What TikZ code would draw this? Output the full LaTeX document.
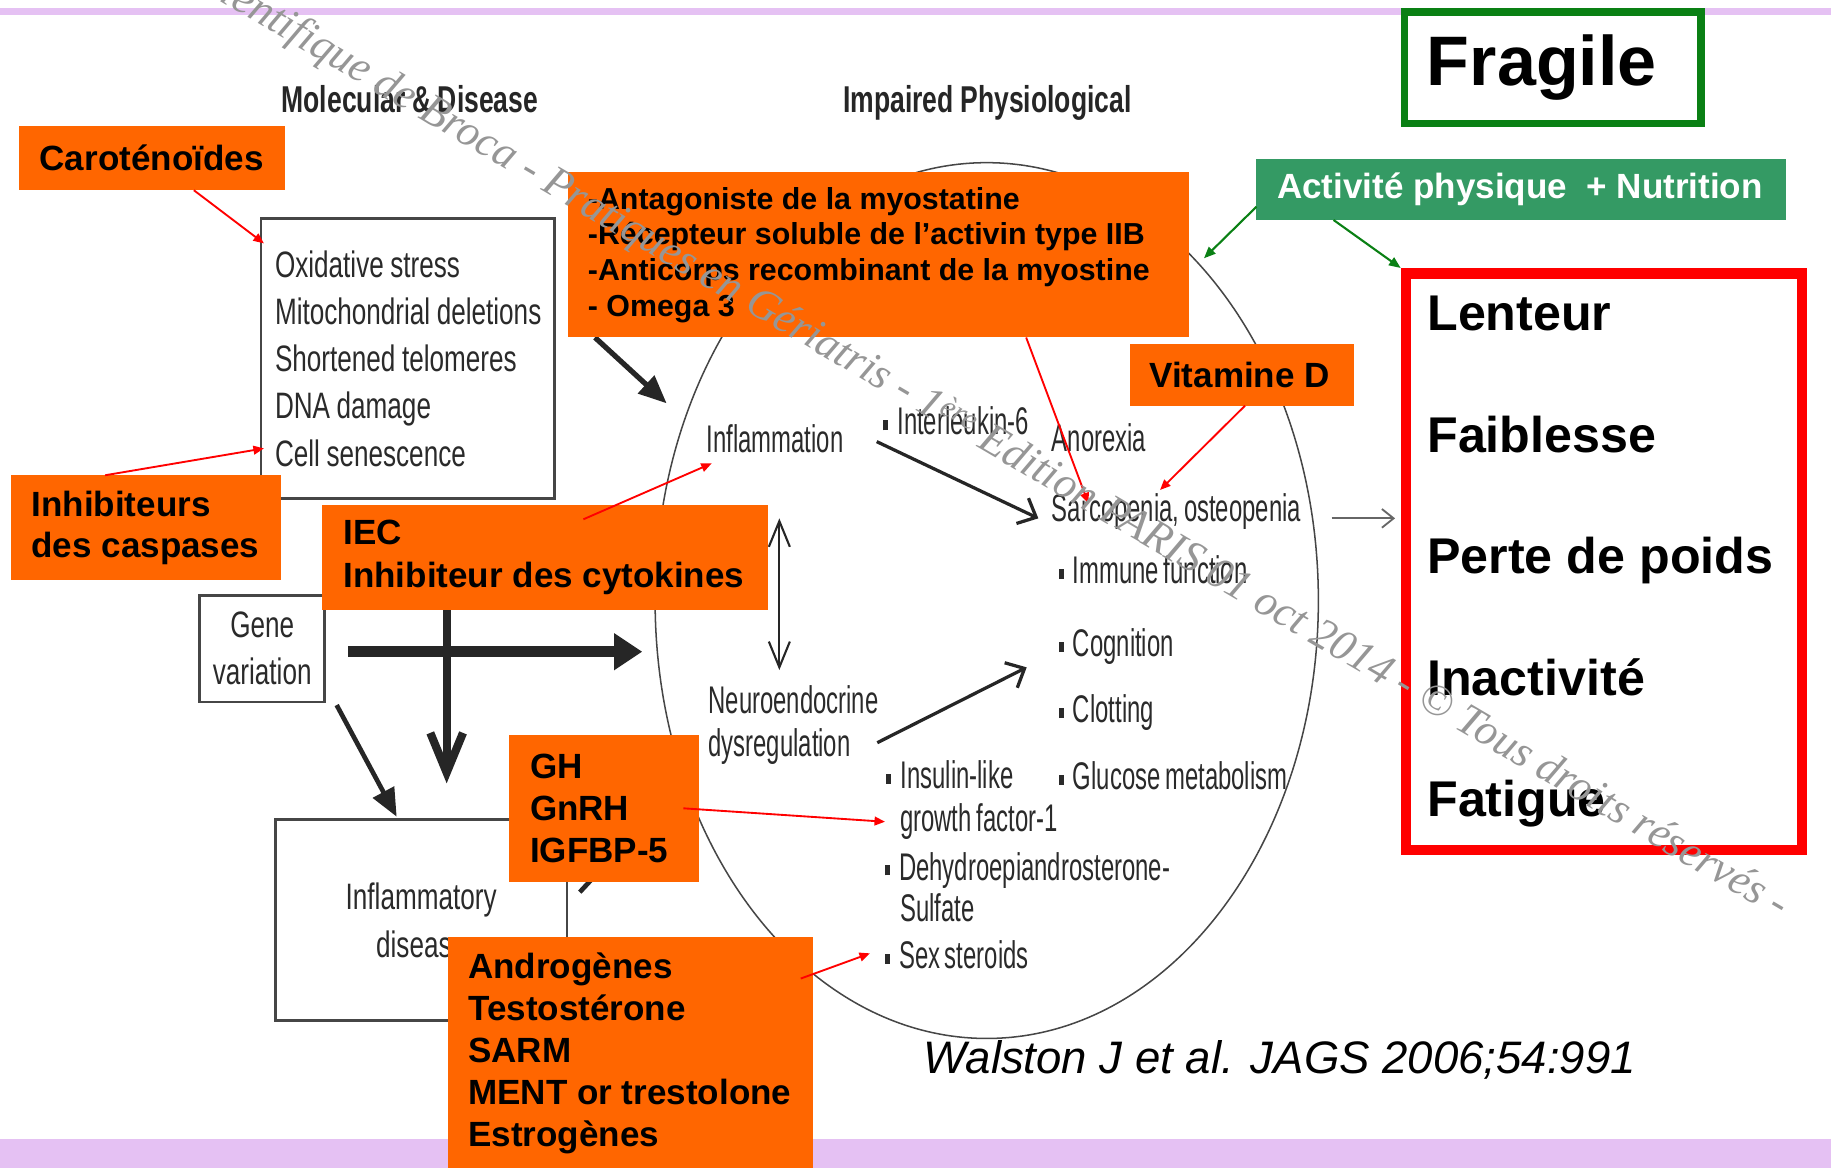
\documentclass[tikz,border=0pt]{standalone}
\usepackage{fontspec}
\setmainfont{Liberation Sans}
\newfontfamily\narrowfont[FakeStretch=0.62,WordSpace=0.7]{Liberation Sans}
\newfontfamily\boxfont[FakeStretch=0.71,WordSpace=0.9]{Liberation Sans}
\newfontfamily\markfont{Liberation Serif}
\usetikzlibrary{arrows.meta,calc}
\pgfdeclarelayer{back}
\pgfsetlayers{back,main}
\definecolor{orangebox}{RGB}{255,102,0}
\definecolor{greenbox}{RGB}{52,154,100}
\definecolor{darkgreen}{RGB}{10,128,20}
\definecolor{bandpurple}{RGB}{229,193,243}
\definecolor{labelgray}{RGB}{42,42,42}
\definecolor{linegray}{RGB}{70,70,70}
\definecolor{markgray}{RGB}{150,150,150}
\newcommand{\sqbullet}{\rule[4pt]{4.3pt}{8.6pt}\hspace{8pt}}

\begin{document}
\begin{tikzpicture}[x=1pt,y=-1pt,
    obox/.style={fill=orangebox, anchor=north west, outer sep=0pt, inner ysep=0pt,
                 align=flush left, font=\bfseries\fontsize{30}{36}\selectfont},
    greybox/.style={draw=linegray, line width=2.2pt, fill=white, anchor=north west,
                    inner ysep=0pt, text=labelgray, font=\boxfont\fontsize{31.5}{40.5}\selectfont},
    lbl/.style={anchor=base west, inner sep=0pt, text=labelgray,
                font=\narrowfont\fontsize{33}{40}\selectfont},
    header/.style={anchor=base west, inner sep=0pt, text=black!85,
                   font=\boxfont\bfseries\fontsize{32}{40}\selectfont},
    redarrow/.style={red, line width=1.6pt, -{Triangle[length=9pt,width=7.5pt]}},
    greenarrow/.style={darkgreen, line width=1.8pt, -{Triangle[length=10pt,width=8pt]}},
    thinbarb/.style={black!85, line width=2.8pt, -{Straight Barb[length=13pt,width=24pt]}},
    fatarrow/.style={black!85, line width=4.5pt, -{Triangle[length=24pt,width=20pt]}}]

\useasboundingbox (0,0) rectangle (1568,1000);
\clip (0,0) rectangle (1568,1000);

\begin{pgfonlayer}{back}
% Slide bands
\fill[bandpurple] (0,7.1) rectangle (1568,12.8);
\fill[bandpurple] (0,975.7) rectangle (1568,1000);

% Walston figure
\draw[linegray, line width=1.3pt] (845,514.3) ellipse [x radius=284pt, y radius=375pt];
\node[header] (molhead) at (241,96.5) {Molecular \& Disease};
\node[header] (physhead) at (722,96.5) {Impaired Physiological};

\node[greybox, text width=227.4pt, inner xsep=12pt, minimum height=240.1pt, align=flush left] (molec) at (222.4,185.9)
  {Oxidative stress\\\mbox{Mitochondrial deletions}\\Shortened telomeres\\DNA damage\\Cell senescence};
\node[greybox, text width=99.1pt, inner xsep=4pt, minimum height=91.4pt, align=flush center,
  font=\boxfont\fontsize{31.5}{40}\selectfont] (gene) at (169.9,508.7) {Gene\\variation};
\node[greybox, text width=229.9pt, inner xsep=10pt, minimum height=172pt, align=flush center,
  font=\boxfont\fontsize{31.5}{41.4}\selectfont] (inflbox) at (234.6,700.8) {Inflammatory\\disease};

\node[lbl] (inflam) at (605,387.7) {Inflammation};
\node[lbl] (il6) at (756,372.5) {\sqbullet Interleukin-6};
\node[lbl] (anorex) at (900.6,386.8) {Anorexia};
\node[lbl] (sarco) at (900.6,446.7) {Sarcopenia, osteopenia};
\node[lbl] (immune) at (906.3,499.6) {\sqbullet Immune function};
\node[lbl] (cogn) at (906.3,562.4) {\sqbullet Cognition};
\node[lbl] (clot) at (906.3,618.9) {\sqbullet Clotting};
\node[lbl] (gluc) at (906.3,676) {\sqbullet Glucose metabolism};
\node[lbl] (neuro1) at (606.5,610.9) {Neuroendocrine};
\node[lbl] (neuro2) at (606.5,648) {dysregulation};
\node[lbl] (igf1) at (758.8,675.1) {\sqbullet Insulin-like};
\node[lbl] (igf2) at (770.7,712.2) {growth factor-1};
\node[lbl] (dhea1) at (757.5,753.6) {\sqbullet Dehydroepiandrosterone-};
\node[lbl] (dhea2) at (770.7,789.3) {Sulfate};
\node[lbl] (sexst) at (757.5,829.3) {\sqbullet Sex steroids};
\end{pgfonlayer}

% Treatments
\node[obox, text width=192pt, inner xsep=18pt, minimum height=54.7pt] (carot) at (16,108.2) {Caroténoïdes};
\node[obox, text width=497.4pt, inner xsep=17.5pt, minimum height=141.5pt,
  font=\bfseries\fontsize{26}{30.5}\selectfont] (antag) at (486,147.5)
  {-Antagoniste de la myostatine\\-Récepteur soluble de l’activin type IIB\\-Anticorps recombinant de la myostine\\- Omega 3};
\node[obox, text width=196.2pt, inner xsep=17.2pt, minimum height=89.7pt,
  font=\bfseries\fontsize{30}{35}\selectfont] (inhib) at (9.8,407) {Inhibiteurs\\\mbox{des caspases}};
\node[obox, text width=345pt, inner xsep=18.5pt, minimum height=90pt,
  font=\bfseries\fontsize{30}{37}\selectfont] (iec) at (275.5,432.5) {IEC\\\mbox{Inhibiteur des cytokines}};
\node[obox, text width=127.3pt, inner xsep=17.7pt, minimum height=125.6pt,
  font=\bfseries\fontsize{30}{35.7}\selectfont] (gh) at (436.2,629.4) {GH\\GnRH\\IGFBP-5};
\node[obox, text width=277.9pt, inner xsep=17.6pt, minimum height=200pt] (andro) at (383.4,802)
  {Androgènes\\Testostérone\\SARM\\\mbox{MENT or trestolone}\\Estrogènes};
\node[obox, text width=158.2pt, inner xsep=16.7pt, minimum height=52.4pt] (vitd) at (967.6,295) {\mbox{Vitamine D}};
\node[obox, fill=greenbox, text=white, text width=418.3pt, inner xsep=17.6pt, minimum height=52.4pt] (activ) at (1076,136)
  {\mbox{Activité physique~ + Nutrition}};

% Frailty
\node[draw=darkgreen, line width=6.5pt, fill=white, anchor=north west, inner ysep=0pt, inner xsep=19.25pt,
  text width=215.3pt, minimum height=95.4pt, align=flush left, font=\bfseries\fontsize{60}{64}\selectfont] (fragile) at (1199.5,7.2) {Fragile};
\node[draw=red, line width=9pt, anchor=north west, inner ysep=0pt, inner xsep=18.3pt,
  text width=302.7pt, minimum height=494.1pt, align=flush left, font=\bfseries\fontsize{43}{104}\selectfont] (crit) at (1199.5,229.5)
  {Lenteur\\Faiblesse\\\mbox{Perte de poids}\\Inactivité\\Fatigue};

\begin{pgfonlayer}{back}
% Pathways
\draw[fatarrow] ($(antag.south west)+(23.5,0)$) -- ($(inflam.base west)+(-34.1,-42.3)$);
\draw[thinbarb] ($(inflam.base west)+(145.8,-9.5)$) -- ($(sarco.base west)+(-11.4,-2.8)$);
\draw[thinbarb] ($(neuro2.base west)+(144.8,-12)$) -- ($(cogn.base west)+(-27.1,9.1)$);
\draw[black!85, line width=1.8pt, {Straight Barb[length=22pt,width=18pt]}-{Straight Barb[length=22pt,width=18pt]}]
  ($(inflam.base west)+(62.4,56.2)$) -- ($(neuro1.base west)+(60.9,-37.1)$);
\draw[black!60, line width=1.6pt, -{Straight Barb[length=10pt,width=16pt]}]
  ($(sarco.base west)+(239.8,-2.8)$) -- ($(crit.north west)+(-4.8,214.4)$);
\draw[black!85, line width=9.5pt, -{Triangle[length=24pt,width=30pt]}]
  ($(gene.east)+(19.1,2.6)$) -- ($(neuro1.base west)+(-56.5,-52.8)$);
\draw[black!85, line width=7pt, -{Straight Barb[length=34pt,width=28pt]}]
  ($(iec.south west)+(107,0)$) -- ($(inflbox.north west)+(147.9,-30)$);
\draw[fatarrow, line width=4pt] ($(gene.south east)+(9.1,1.5)$) -- ($(inflbox.north west)+(105.1,-1.4)$);
\draw[fatarrow, line width=4pt] ($(inflbox.north east)+(9.8,63.2)$) -- ($(gh.south west)+(103.8,-38)$);
\end{pgfonlayer}

% Targets
\draw[redarrow] ($(carot.south west)+(150,0)$) -- ($(molec.north west)+(3.6,22.5)$);
\draw[redarrow] ($(inhib.north west)+(80.2,0)$) -- ($(molec.north west)+(3.6,198.1)$);
\draw[redarrow] ($(iec.north west)+(224.1,12.2)$) -- ($(inflam.base west)+(4.5,9.1)$);
\draw[redarrow] ($(antag.south west)+(392.75,0)$) -- ($(sarco.base west)+(31.4,-15.7)$);
\draw[redarrow] ($(vitd.south west)+(98.6,0)$) -- ($(sarco.base west)+(92.8,-27.1)$);
\draw[redarrow] ($(gh.north east)+(-13.7,62.8)$) -- ($(igf2.base west)+(-12.8,-8.5)$);
\draw[redarrow] ($(andro.north east)+(-10.8,36)$) -- ($(sexst.base west)+(-12.5,-12.9)$);
\draw[greenarrow] ($(activ.south west)+(0,-11.4)$) -- ($(antag.north east)+(12.6,73.7)$);
\draw[greenarrow] ($(activ.south west)+(66,0)$) -- (crit.north west);

\node[anchor=base west, inner sep=0pt, font=\itshape\fontsize{39}{40}\selectfont] (cite) at (790.7,919.2)
  {Walston J et al. JAGS 2006;54:991};

% Watermark
\node[anchor=base west, inner sep=0pt, rotate=-30.5, text=markgray, font=\markfont\itshape\fontsize{37.8}{40}\selectfont] (mark) at (187,0)
  {ientifique de Broca - Pratiques en Gériatris - 1\textsuperscript{ère} Edition PARIS 01 oct 2014 - © Tous droits réservés -};
\end{tikzpicture}
\end{document}
